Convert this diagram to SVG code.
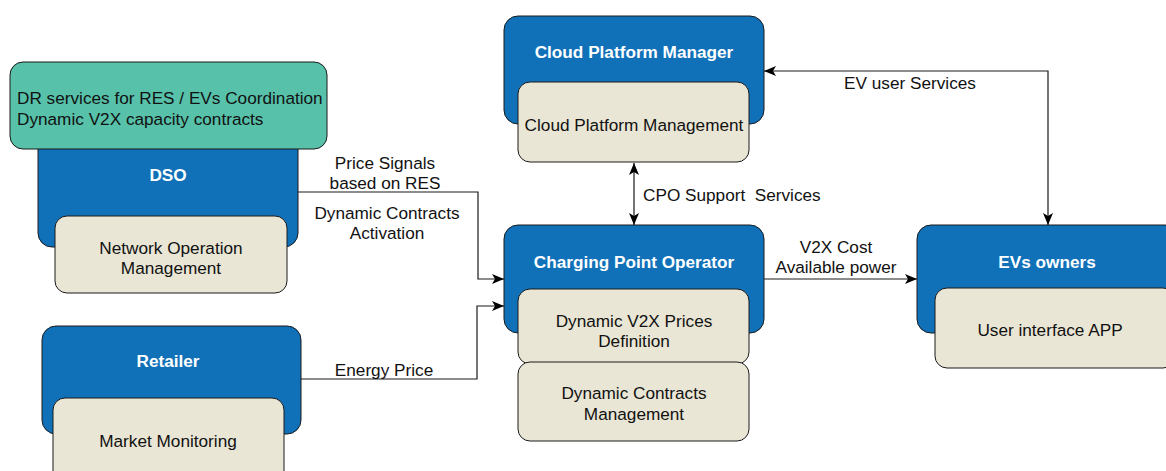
<svg xmlns="http://www.w3.org/2000/svg" width="1166" height="471" viewBox="0 0 1166 471">
  <style>
    .actor { fill: #1071b8; stroke: #1a1a1a; stroke-width: 1; }
    .func { fill: #e9e6d5; stroke: #1a1a1a; stroke-width: 1; }
    .note { fill: #57c1aa; stroke: #1a1a1a; stroke-width: 1; }
    .title { font-family: "Liberation Sans", Arial, sans-serif; font-size: 17.2px; font-weight: bold; fill: #ffffff; text-anchor: middle; }
    .label { font-family: "Liberation Sans", Arial, sans-serif; font-size: 17.2px; fill: #111111; text-anchor: middle; white-space: pre; }
    .edge { fill: none; stroke: #1a1a1a; stroke-width: 1.2; }
  </style>
  <defs>
    <marker id="arrow" viewBox="0 0 12 10" refX="12" refY="5" markerWidth="12" markerHeight="10" markerUnits="userSpaceOnUse" orient="auto-start-reverse">
      <path d="M0,0 L12,5 L0,10 L3,5 Z" fill="#000000"/>
    </marker>
  </defs>
  <rect width="1166" height="471" fill="#ffffff"/>

  <!-- DSO -->
  <g id="dso">
    <rect class="actor" x="38" y="135" width="260" height="112" rx="14"/>
    <rect class="note" x="10" y="62" width="317" height="87" rx="13"/>
    <text class="label" x="17" y="104" style="text-anchor:start">DR services for RES / EVs Coordination</text>
    <text class="label" x="17" y="125" style="text-anchor:start">Dynamic V2X capacity contracts</text>
    <text class="title" x="168" y="181">DSO</text>
    <rect class="func" x="55" y="216" width="232" height="77" rx="12"/>
    <text class="label" x="171" y="254">Network Operation</text>
    <text class="label" x="171" y="274">Management</text>
  </g>

  <!-- Retailer -->
  <g id="retailer">
    <rect class="actor" x="42" y="326" width="259" height="108" rx="14"/>
    <text class="title" x="168" y="367">Retailer</text>
    <rect class="func" x="53" y="398" width="231" height="85" rx="12"/>
    <text class="label" x="168" y="447">Market Monitoring</text>
  </g>

  <!-- Cloud Platform Manager -->
  <g id="cloud">
    <rect class="actor" x="504" y="16" width="260" height="108" rx="14"/>
    <text class="title" x="634" y="58">Cloud Platform Manager</text>
    <rect class="func" x="518" y="82" width="231" height="80" rx="12"/>
    <text class="label" x="634" y="131">Cloud Platform Management</text>
  </g>

  <!-- Charging Point Operator -->
  <g id="cpo">
    <rect class="actor" x="504" y="225" width="260" height="108" rx="14"/>
    <text class="title" x="634" y="268">Charging Point Operator</text>
    <rect class="func" x="518" y="289" width="231" height="75" rx="12"/>
    <text class="label" x="634" y="327">Dynamic V2X Prices</text>
    <text class="label" x="634" y="347">Definition</text>
    <rect class="func" x="518" y="362" width="231" height="79" rx="12"/>
    <text class="label" x="634" y="399">Dynamic Contracts</text>
    <text class="label" x="634" y="420">Management</text>
  </g>

  <!-- EVs owners -->
  <g id="evs">
    <rect class="actor" x="917" y="225" width="262" height="108" rx="14"/>
    <text class="title" x="1047" y="268">EVs owners</text>
    <rect class="func" x="935" y="288" width="240" height="80" rx="12"/>
    <text class="label" x="1050" y="336">User interface APP</text>
  </g>

  <!-- Connectors -->
  <g id="connectors">
    <polyline class="edge" points="298,192 478,192 478,279 504,279" marker-end="url(#arrow)"/>
    <text class="label" x="385" y="169">Price Signals</text>
    <text class="label" x="385" y="189">based on RES</text>
    <text class="label" x="387" y="219">Dynamic Contracts</text>
    <text class="label" x="387" y="239">Activation</text>

    <polyline class="edge" points="301,379 477,379 477,306 504,306" marker-end="url(#arrow)"/>
    <text class="label" x="384" y="376">Energy Price</text>

    <line class="edge" x1="634" y1="163" x2="634" y2="225" marker-start="url(#arrow)" marker-end="url(#arrow)"/>
    <text class="label" x="643" y="201" style="text-anchor:start">CPO Support  Services</text>

    <polyline class="edge" points="764,71 1048,71 1048,225" marker-start="url(#arrow)" marker-end="url(#arrow)"/>
    <text class="label" x="910" y="89">EV user Services</text>

    <line class="edge" x1="764" y1="279" x2="917" y2="279" marker-end="url(#arrow)"/>
    <text class="label" x="836" y="253">V2X Cost</text>
    <text class="label" x="836" y="273">Available power</text>
  </g>
</svg>
